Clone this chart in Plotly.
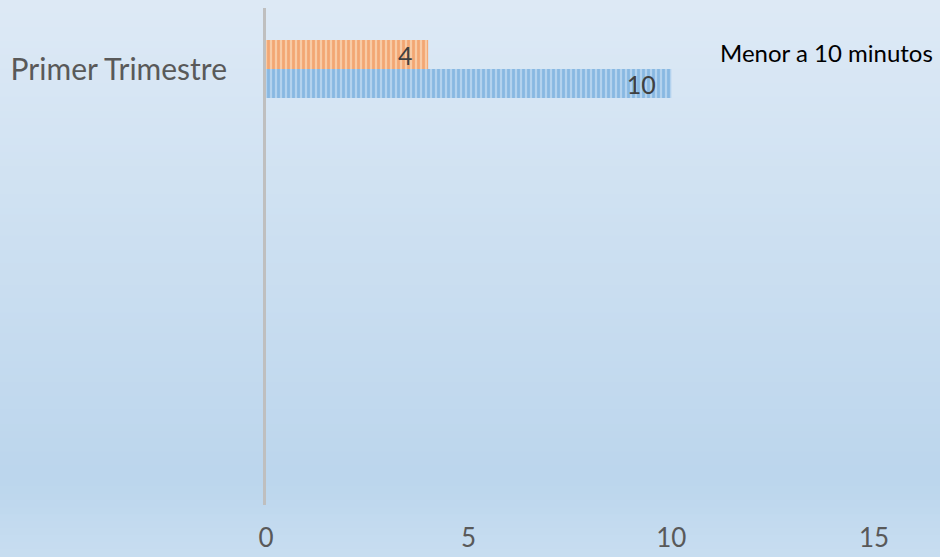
import plotly.graph_objects as go

categories = ["Primer Trimestre"]
series_names = ["Serie naranja", "Menor a 10 minutos"]
orange_values = [4]
blue_values = [10]
x_ticks = [0, 5, 10, 15]
legend_text = "Menor a 10 minutos"

W, H = 940, 557
L, R, T, B = 266, 66, 8, 52
FONT = "Lato"

fig = go.Figure()
fig.add_trace(go.Bar(
    y=categories, x=orange_values, orientation="h", name=series_names[0],
    marker=dict(color="#F6BE93", line=dict(width=0),
                pattern=dict(shape="|", fgcolor="#EE8240", bgcolor="#F8CBA6", size=5, solidity=0.55)),
    texttemplate="%{x}\u2002", textposition="inside", insidetextanchor="end",
    textangle=0, constraintext="none",
    textfont=dict(size=25, color="#404040", family=FONT), showlegend=False,
))
fig.add_trace(go.Bar(
    y=categories, x=blue_values, orientation="h", name=series_names[1],
    marker=dict(color="#A9CCEB", line=dict(width=0),
                pattern=dict(shape="|", fgcolor="#5E9DD6", bgcolor="#B3D2EE", size=5, solidity=0.55)),
    texttemplate="%{x}\u2002", textposition="inside", insidetextanchor="end",
    textangle=0, constraintext="none",
    textfont=dict(size=25, color="#404040", family=FONT), showlegend=False,
))

# background vertical gradient
top = (222, 234, 246)
mid = (188, 214, 237)
bot = (200, 222, 241)
n = 80
pw = W - L - R
ph = H - T - B
x0p = -L / pw
x1p = 1 + R / pw
for i in range(n):
    f0 = i / n
    f1 = (i + 1) / n
    yc = (f0 + f1) / 2 * H
    if yc < 480:
        t = yc / 480
        c = tuple(int(top[k] + (mid[k] - top[k]) * t) for k in range(3))
    else:
        t = (yc - 480) / (H - 480)
        c = tuple(int(mid[k] + (bot[k] - mid[k]) * t) for k in range(3))
    py0 = 1 - ((f1 * H) - T) / ph
    py1 = 1 - ((f0 * H) - T) / ph
    fig.add_shape(type="rect", xref="paper", yref="paper", x0=x0p, x1=x1p,
                  y0=py0 - 0.002, y1=py1 + 0.002, fillcolor="rgb(%d,%d,%d)" % c,
                  line=dict(width=0), layer="below")

fig.add_annotation(text=legend_text, xref="paper", yref="paper",
                   x=(935 - L) / pw, y=1 - (52 - T) / ph, xanchor="right", yanchor="middle",
                   showarrow=False, font=dict(size=24, color="#000000", family=FONT))

fig.update_layout(
    width=W, height=H,
    margin=dict(l=L, r=R, t=T, b=B, autoexpand=False),
    paper_bgcolor="rgb(205,224,242)", plot_bgcolor="rgba(0,0,0,0)",
    barmode="group", bargap=0.525, bargroupgap=0,
    font=dict(family=FONT, color="#595959"),
    xaxis=dict(range=[0, 15], tickvals=x_ticks, showgrid=False, zeroline=False,
               showline=False, tickfont=dict(size=26, color="#595959"),
               ticklabelstandoff=15, automargin=False),
    yaxis=dict(type="category", categoryarray=categories, range=[3.57, -0.5],
               showgrid=False, zeroline=False, showline=True, linecolor="#BFBFBF",
               linewidth=3, tickfont=dict(size=30, color="#595959"),
               ticklabelstandoff=30, ticks="", automargin=False),
    showlegend=False,
)

fig.write_html("out.html", config={"displayModeBar": False},
               post_script="document.body.style.margin='0';document.body.style.overflow='hidden';")
